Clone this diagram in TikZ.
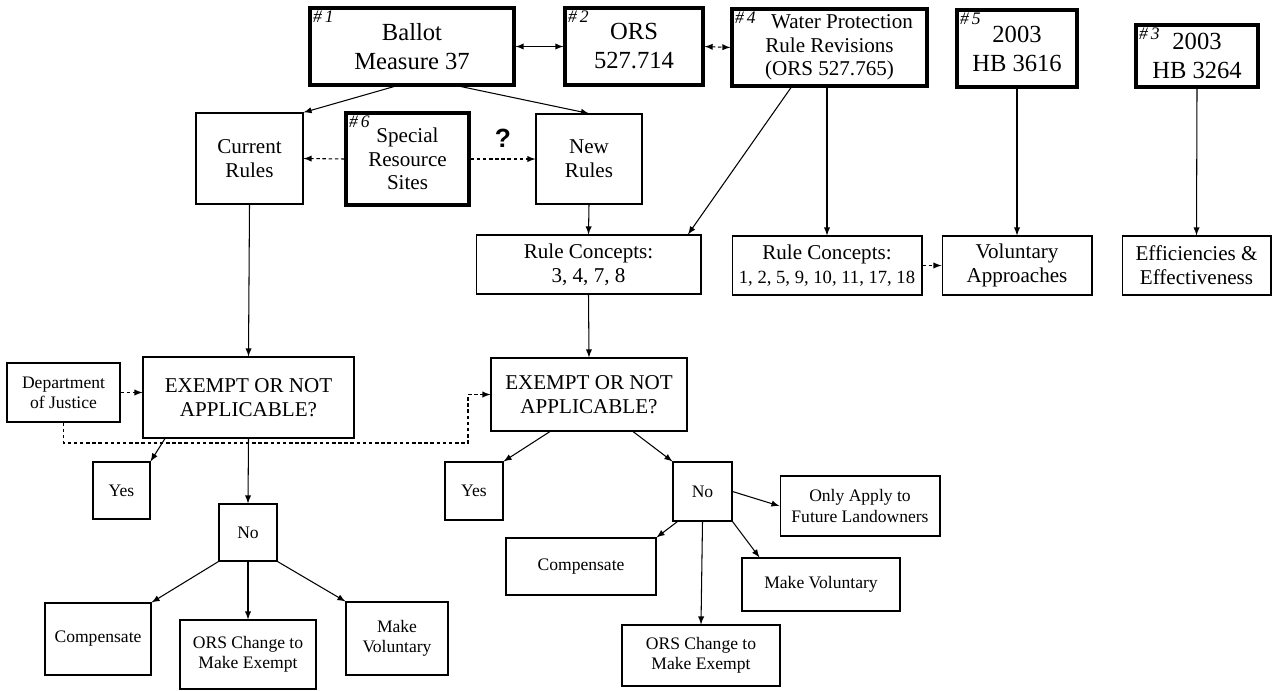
\documentclass[tikz,border=0pt]{standalone}
\usepackage{fontspec}
\setmainfont{Liberation Serif}
\newfontfamily\qmarkfont{Liberation Sans}
\usepackage{tikz}

\tikzset{
  heavybox/.style={draw, line width=1.8pt, align=center, inner sep=0pt,
    font=\fontsize{14}{16.5}\selectfont},
  box/.style={draw, line width=0.6pt, align=center, inner sep=0pt,
    font=\fontsize{12}{13.5}\selectfont},
  smallbox/.style={box, font=\fontsize{10}{11.5}\selectfont},
  numtag/.style={anchor=north west, inner sep=2.5pt, font=\fontsize{10}{10}\selectfont\itshape},
  arr/.style={-latex, line width=0.6pt},
  darr/.style={arr, dash pattern=on 2pt off 1.5pt},
}

\begin{document}
\begin{tikzpicture}[x=0.02cm,y=-0.02cm]
\useasboundingbox (0,0) rectangle (1274,690);

% top row
\node[heavybox,minimum width=4.08cm,minimum height=1.54cm] (ballot) at (412,46.5) {Ballot\\Measure 37};
\node[heavybox,minimum width=2.76cm,minimum height=1.54cm] (ors) at (634,46.5) {ORS\\527.714};
\node[heavybox,minimum width=3.9cm,minimum height=1.54cm,font=\fontsize{12}{13.3}\selectfont] (water) at (829.5,47.5) {\hspace{0.5cm}Water Protection\\Rule Revisions\\(ORS 527.765)};
\node[heavybox,minimum width=2.4cm,minimum height=1.54cm] (hbfive) at (1017,48.5) {2003\\HB 3616};
\node[heavybox,minimum width=2.44cm,minimum height=1.24cm] (hbthree) at (1197,56) {2003\\HB 3264};
\node[numtag] (tagone) at (ballot.north west) {\#\,1};
\node[numtag] (tagtwo) at (ors.north west) {\#\,2};
\node[numtag] (tagfour) at (water.north west) {\#\,4};
\node[numtag] (tagfive) at (hbfive.north west) {\#\,5};
\node[numtag] (tagthree) at (hbthree.north west) {\#\,3};

% rules
\node[box,minimum width=2.14cm,minimum height=1.82cm] (current) at (249.5,158.5) {Current\\Rules};
\node[heavybox,minimum width=2.46cm,minimum height=1.84cm,font=\fontsize{12}{13.5}\selectfont] (special) at (407.5,159) {Special\\Resource\\Sites};
\node[numtag] (tagsix) at (special.north west) {\#\,6};
\node[box,minimum width=2.12cm,minimum height=1.8cm] (newrules) at (589,159) {New\\Rules};

% rule concepts
\node[box,minimum width=4.5cm,minimum height=1.18cm] (concA) at (588.5,264.5) {Rule Concepts:\\3, 4, 7, 8};
\node[box,minimum width=3.8cm,minimum height=1.18cm] (concB) at (827,265.5) {Rule Concepts:\\{\fontsize{10.6}{13.5}\selectfont 1, 2, 5, 9, 10, 11, 17, 18}};
\node[box,minimum width=3cm,minimum height=1.18cm] (volapp) at (1017,265.5) {Voluntary\\Approaches};
\node[box,minimum width=2.98cm,minimum height=1.18cm] (effic) at (1196.5,265.5) {Efficiencies \&\\Effectiveness};

% exempt questions
\node[smallbox,minimum width=2.26cm,minimum height=1.18cm] (doj) at (63.5,392.5) {Department\\of Justice};
\node[box,minimum width=4.22cm,minimum height=1.62cm] (exemptA) at (248.5,397.5) {EXEMPT OR NOT\\APPLICABLE?};
\node[box,minimum width=3.92cm,minimum height=1.46cm] (exemptB) at (589,394.5) {EXEMPT OR NOT\\APPLICABLE?};
\coordinate (dojturn) at (468,443);

% left answers
\node[smallbox,minimum width=1.14cm,minimum height=1.14cm] (yesA) at (121.5,490.5) {Yes};
\node[smallbox,minimum width=1.16cm,minimum height=1.14cm] (noA) at (248,532.5) {No};
\node[smallbox,minimum width=2.12cm,minimum height=1.44cm] (compA) at (98,639) {Compensate};
\node[smallbox,minimum width=2.72cm,minimum height=1.38cm] (orsA) at (248,654.5) {ORS Change to\\Make Exempt};
\node[smallbox,minimum width=2.04cm,minimum height=1.46cm] (volA) at (397,638.5) {Make\\Voluntary};

% right answers
\node[smallbox,minimum width=1.16cm,minimum height=1.16cm] (yesB) at (474,491) {Yes};
\node[smallbox,minimum width=1.18cm,minimum height=1.18cm] (noB) at (702.5,491.5) {No};
\node[smallbox,minimum width=3.2cm,minimum height=1.2cm] (onlyB) at (860,506) {Only Apply to\\Future Landowners};
\node[smallbox,minimum width=3cm,minimum height=1.14cm] (compB) at (581,566.5) {Compensate};
\node[smallbox,minimum width=3.16cm,minimum height=1.22cm] (orsB) at (701,655.5) {ORS Change to\\Make Exempt};
\node[smallbox,minimum width=3.16cm,minimum height=1.06cm] (volB) at (821,584.5) {Make Voluntary};

% connectors
\draw[latex-latex,line width=0.6pt] (ballot.east) -- (ors.west);
\draw[latex-latex,line width=0.6pt,dash pattern=on 2pt off 1.5pt] (ors.east) -- (water.west);
\draw[arr] ([xshift=-0.36cm]ballot.south) -- (current.north east);
\draw[arr] ([xshift=0.98cm]ballot.south) -- (newrules.north);
\draw[darr] (special.west) -- (current.east);
\draw[darr] (special.east) -- node[above=3pt,font=\qmarkfont\fontsize{15}{15}\selectfont\bfseries] (qmark) {?} (newrules.west);
\draw[arr] ([xshift=-0.77cm]water.south) -- ([xshift=1.99cm]concA.north);
\draw[arr] (water.south -| concB.north) -- (concB.north);
\draw[arr] (hbfive.south) -- (volapp.north);
\draw[arr] (hbthree.south) -- (effic.north);
\draw[darr] (concB.east) -- (volapp.west);
\draw[arr] (newrules.south) -- (concA.north);
\draw[arr] (concA.south) -- (exemptB.north);
\draw[arr] (current.south) -- (exemptA.north);
\draw[darr] (doj.east) -- (doj.east -| exemptA.west);
\draw[darr] (doj.south) |- (dojturn) |- (exemptB.west);
\draw[arr] ([xshift=-1.67cm]exemptA.south) -- (yesA.north east);
\draw[arr] (exemptA.south) -- (noA.north);
\draw[arr] (noA.south west) -- (compA.north east);
\draw[arr] (noA.south) -- (orsA.north);
\draw[arr] (noA.south east) -- (volA.north west);
\draw[arr] ([xshift=-0.78cm]exemptB.south) -- (yesB.north east);
\draw[arr] ([xshift=0.88cm]exemptB.south) -- (noB.north west);
\draw[arr] (noB.east) -- (onlyB.west);
\draw[arr] ([xshift=0.1cm]noB.south west) -- (compB.north east);
\draw[arr] (noB.south) -- (orsB.north);
\draw[arr] (noB.south east) -- ([xshift=0.36cm]volB.north west);
\end{tikzpicture}
\end{document}
